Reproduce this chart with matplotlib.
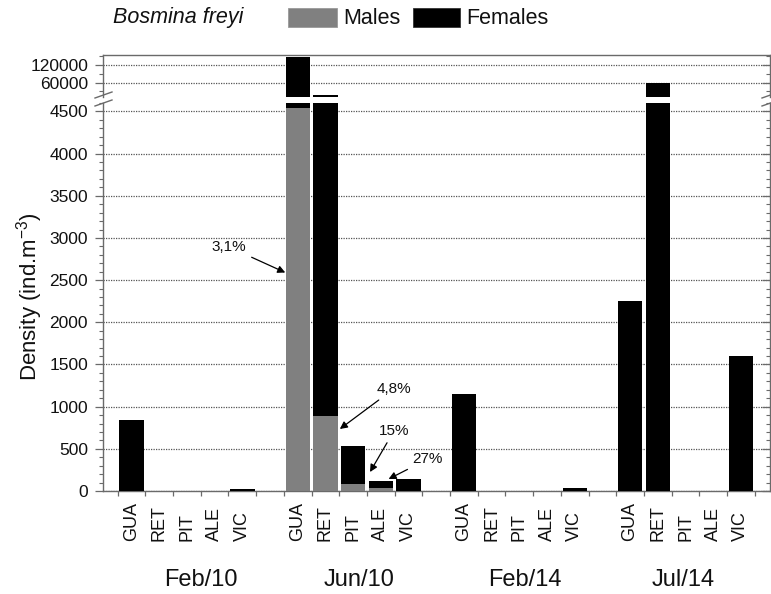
import matplotlib
matplotlib.use("Agg")
import matplotlib.pyplot as plt
from matplotlib.patches import Rectangle
from matplotlib.lines import Line2D
from matplotlib.transforms import blended_transform_factory
import numpy as np

plt.rcParams['font.family'] = ['Liberation Sans', 'DejaVu Sans']
plt.rcParams['mathtext.default'] = 'regular'

# ---- data (ind. m^-3) ----
sites = ["GUA", "RET", "PIT", "ALE", "VIC"]
periods = ["Feb/10", "Jun/10", "Feb/14", "Jul/14"]

males_feb10 = [0, 0, 0, 0, 0]
females_feb10 = [840, 0, 0, 0, 25]
males_jun10 = [4540, 890, 80, 31, 0]
females_jun10 = [141960, 17610, 455, 84, 145]
males_feb14 = [0, 0, 0, 0, 0]
females_feb14 = [1150, 0, 0, 0, 40]
males_jul14 = [0, 0, 0, 0, 0]
females_jul14 = [2250, 60000, 0, 0, 1600]

males = [males_feb10, males_jun10, males_feb14, males_jul14]
females = [females_feb10, females_jun10, females_feb14, females_jul14]

MALE_C = "#808080"
FEMALE_C = "#000000"
SPINE_C = "#6a6a6a"
GRID_C = "#555555"

W, H = 771, 594
def fx(px):
    return px / W
def fy(py):
    return 1 - py / H

fig = plt.figure(figsize=(W / 100, H / 100), dpi=100)

left_px, right_px = 103, 770
ax_lo = fig.add_axes([fx(left_px), fy(491), fx(right_px) - fx(left_px), fy(103) - fy(491)])
ax_hi = fig.add_axes([fx(left_px), fy(96.5), fx(right_px) - fx(left_px), fy(55) - fy(96.5)],
                     sharex=ax_lo)

slot = 6
width = 0.88
xpos = []
for p in range(len(periods)):
    xs = [p * slot + i for i in range(len(sites))]
    xpos.append(xs)
    for ax in (ax_lo, ax_hi):
        ax.bar(xs, males[p], width=width, color=MALE_C, edgecolor='none', zorder=3)
        ax.bar(xs, females[p], width=width, bottom=males[p], color=FEMALE_C,
               edgecolor='none', zorder=3)

ax_lo.set_xlim(-1.03, 23.05)
ax_lo.set_ylim(0, 4600)
ax_hi.set_ylim(13000, 154000)

ax_lo.set_yticks(np.arange(0, 4501, 500))
ax_lo.set_yticks(np.arange(0, 4601, 100), minor=True)
ax_hi.set_yticks([60000, 120000])
ax_hi.set_yticks([30000, 90000, 150000], minor=True)

for ax in (ax_lo, ax_hi):
    ax.yaxis.grid(True, which='major', linestyle=(0, (1, 1)), color=GRID_C, lw=0.9, zorder=1)
    ax.set_axisbelow(True)
    for s in ax.spines.values():
        s.set_color(SPINE_C)
        s.set_linewidth(1.0)
    ax.tick_params(axis='y', which='major', direction='out', length=5.8, width=0.9,
                   color=SPINE_C, labelsize=12.5, pad=5, right=True)
    ax.tick_params(axis='y', which='minor', direction='out', length=2.9, width=0.8,
                   color=SPINE_C, right=True)
    ax.tick_params(axis='y', which='both', labelcolor='#111111')

# right-side ticks point inward
for ax in (ax_lo, ax_hi):
    for t in ax.yaxis.get_major_ticks() + ax.yaxis.get_minor_ticks():
        t.tick2line.set_marker(matplotlib.lines.TICKLEFT)

ax_lo.spines['top'].set_visible(False)
ax_hi.spines['bottom'].set_visible(False)
ax_hi.tick_params(axis='x', which='both', bottom=False, labelbottom=False)

# x ticks at the slot boundaries, labels drawn separately
bounds = np.arange(-0.5, 23, 1.0)
ax_lo.set_xticks(bounds)
ax_lo.tick_params(axis='x', which='major', direction='out', length=3.6, width=0.9,
                  color=SPINE_C, labelbottom=False)

lab_tr = blended_transform_factory(ax_lo.transData, fig.transFigure)
for p in range(len(periods)):
    for i, name in enumerate(sites):
        fig.text(xpos[p][i], fy(541), name, rotation=90, ha='center', va='bottom',
                 fontsize=13, transform=lab_tr, color='#111111')
group_x = [2.5, 8.2, 14.2, 19.9]
for p, name in enumerate(periods):
    fig.text(group_x[p], fy(580), name, ha='center', va='center', fontsize=17,
             transform=lab_tr, color='#111111')

fig.text(fx(30), fy(297), 'Density (ind.m$^{-3}$)', rotation=90, ha='center',
         va='center', fontsize=16, color='#111111')

# male share annotations (Jun/10)
jun_tot = [m + f for m, f in zip(males_jun10, females_jun10)]
def pct_label(m, t):
    v = 100.0 * m / t
    s = f"{v:.1f}" if v < 10 else f"{v:.0f}"
    return s.replace('.', ',') + '%'

ann = [
    (0, (3.52, 2893), (5.55, 2590)),
    (1, (9.48, 1214), (7.52, 735)),
    (2, (9.48, 716), (8.61, 225)),
    (3, (10.7, 379), (9.28, 142)),
]
for i, txy, tip in ann:
    ax_lo.annotate(pct_label(males_jun10[i], jun_tot[i]), xy=tip, xytext=txy,
                   textcoords='data', ha='center', va='center', fontsize=11,
                   color='#111111', zorder=5,
                   arrowprops=dict(arrowstyle='-|>', color='black', lw=0.9,
                                   mutation_scale=11, shrinkA=2, shrinkB=0))

# axis break marks
for x0 in (left_px, right_px):
    for dy in (0, 8):
        fig.add_artist(Line2D([fx(x0 - 8), fx(x0 + 9)], [fy(98 + dy), fy(92 + dy)],
                              color=SPINE_C, lw=1.0, transform=fig.transFigure))

# legend header
fig.text(fx(113), fy(18), 'Bosmina freyi', style='italic', fontsize=15.5,
         ha='left', va='center', color='#111111')
fig.add_artist(Rectangle((fx(288), fy(27)), fx(337) - fx(288), fy(8) - fy(27),
                         transform=fig.transFigure, facecolor=MALE_C, edgecolor='#999999', lw=0.6))
fig.text(fx(343), fy(18), 'Males', fontsize=15.5, ha='left', va='center', color='#111111')
fig.add_artist(Rectangle((fx(413), fy(27)), fx(460) - fx(413), fy(8) - fy(27),
                         transform=fig.transFigure, facecolor=FEMALE_C, edgecolor='#333333', lw=0.6))
fig.text(fx(466), fy(18), 'Females', fontsize=15.5, ha='left', va='center', color='#111111')

fig.savefig('out.png', dpi=100)
